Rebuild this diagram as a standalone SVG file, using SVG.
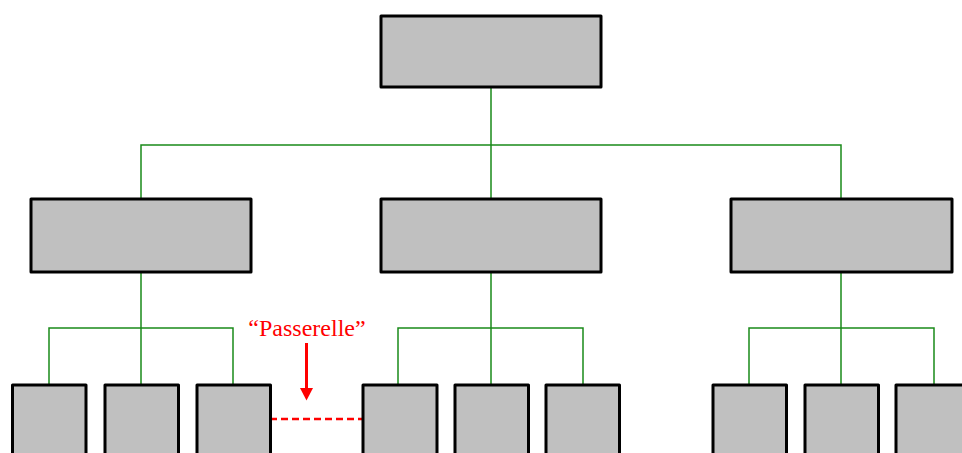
<svg xmlns="http://www.w3.org/2000/svg" width="962" height="453" viewBox="0 0 962 453">
<style>
.box{fill:#c0c0c0;stroke:#000;stroke-width:3;stroke-linejoin:round}
.link{fill:none;stroke:#1a8a1a;stroke-width:1.5}
.bridge{fill:none;stroke:#ff0000;stroke-width:2.5;stroke-dasharray:7,4}
.lbl{font-family:"Liberation Serif",serif;font-size:24px;fill:#ff0000}
</style>
<rect width="962" height="453" fill="#fff"/>
<g id="connectors">
<path class="link" d="M491,88 V199 M141,199 V145 H841 V199"/>
<path class="link" d="M141,273 V385 M49,385 V328 H233 V385"/>
<path class="link" d="M491,273 V385 M398,385 V328 H583 V385"/>
<path class="link" d="M841,273 V385 M749,385 V328 H934 V385"/>
<path class="bridge" d="M270,419 H362"/>
<path d="M306.5,343 V390" stroke="#ff0000" stroke-width="3" fill="none"/>
<path d="M300,388 L313,388 L306.5,400.5 Z" fill="#ff0000"/>
</g>
<g id="root"><rect class="box" x="381" y="16" width="220" height="71"/></g>
<g id="mid1"><rect class="box" x="31" y="199" width="220" height="73"/></g>
<g id="mid2"><rect class="box" x="381" y="199" width="220" height="73"/></g>
<g id="mid3"><rect class="box" x="731" y="199" width="221" height="73"/></g>
<g id="leaf1"><rect class="box" x="12.5" y="385" width="73.5" height="80"/></g>
<g id="leaf2"><rect class="box" x="105" y="385" width="73.5" height="80"/></g>
<g id="leaf3"><rect class="box" x="197" y="385" width="73.5" height="80"/></g>
<g id="leaf4"><rect class="box" x="363" y="385" width="74" height="80"/></g>
<g id="leaf5"><rect class="box" x="455" y="385" width="73.5" height="80"/></g>
<g id="leaf6"><rect class="box" x="546" y="385" width="73.5" height="80"/></g>
<g id="leaf7"><rect class="box" x="713" y="385" width="73.5" height="80"/></g>
<g id="leaf8"><rect class="box" x="805" y="385" width="73.5" height="80"/></g>
<g id="leaf9"><rect class="box" x="896" y="385" width="73.5" height="80"/></g>
<g id="label"><text class="lbl" x="307" y="336" text-anchor="middle">“Passerelle”</text></g>
</svg>
